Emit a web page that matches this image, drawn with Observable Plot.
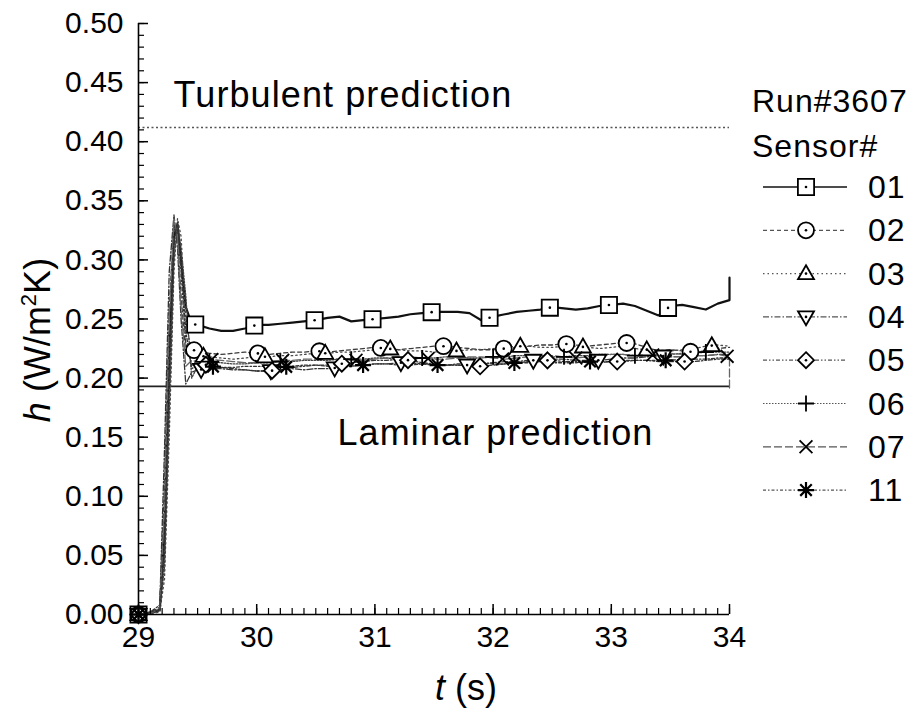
<!DOCTYPE html>
<html>
<head>
<meta charset="utf-8">
<script src="https://cdn.jsdelivr.net/npm/d3@7"></script>
<script src="https://cdn.jsdelivr.net/npm/@observablehq/plot@0.6"></script>
<style>
  body { margin: 0; background: #fff; }
  #chart { width: 916px; height: 709px; }
  svg { font-family: "Liberation Sans", Arial, Helvetica, sans-serif; }
</style>
</head>
<body>
<div id="chart"></div>
<script>
// ---------------- DATA ----------------
const runLabel = "Run#3607";
const sensorHeader = "Sensor#";
const sensors = ["01", "02", "03", "04", "05", "06", "07", "11"];

// time samples (s)
const timeGrid = [29.0, 29.1, 29.18, 29.22, 29.26, 29.3, 29.33, 29.36, 29.4, 29.45,
  29.5, 29.6, 29.7, 29.8, 29.9, 30.0, 30.1, 30.2, 30.3, 30.4,
  30.5, 30.6, 30.7, 30.8, 30.9, 31.0, 31.1, 31.2, 31.3, 31.4,
  31.5, 31.6, 31.7, 31.8, 31.9, 32.0, 32.1, 32.2, 32.3, 32.4,
  32.5, 32.6, 32.7, 32.8, 32.9, 33.0, 33.1, 33.2, 33.3, 33.4,
  33.5, 33.6, 33.7, 33.8, 33.9, 34.0];

// heat-transfer coefficient h (W/m^2K) per sensor, one value per time sample
const h01 = [0, 0.001, 0.004, 0.07, 0.22, 0.32, 0.33, 0.30, 0.26, 0.246,
  0.245, 0.242, 0.240, 0.240, 0.242, 0.245, 0.245, 0.246, 0.247, 0.248,
  0.249, 0.251, 0.252, 0.248, 0.249, 0.250, 0.251, 0.252, 0.254, 0.255,
  0.256, 0.256, 0.256, 0.255, 0.249, 0.252, 0.254, 0.256, 0.257, 0.258,
  0.260, 0.259, 0.258, 0.259, 0.261, 0.262, 0.263, 0.261, 0.257, 0.253,
  0.261, 0.262, 0.260, 0.258, 0.263, 0.266];
const h02 = [0, 0.002, 0.006, 0.11, 0.26, 0.33, 0.32, 0.27, 0.22, 0.224,
  0.223, 0.221, 0.220, 0.221, 0.222, 0.221, 0.220, 0.221, 0.222, 0.222,
  0.223, 0.222, 0.223, 0.224, 0.225, 0.226, 0.225, 0.224, 0.225, 0.226,
  0.227, 0.227, 0.226, 0.225, 0.224, 0.224, 0.225, 0.226, 0.227, 0.228,
  0.228, 0.229, 0.228, 0.227, 0.228, 0.229, 0.230, 0.229, 0.226, 0.223,
  0.224, 0.223, 0.222, 0.223, 0.225, 0.226];
const h03 = [0, 0.001, 0.002, 0.03, 0.15, 0.29, 0.335, 0.32, 0.25, 0.220,
  0.219, 0.218, 0.217, 0.216, 0.217, 0.218, 0.218, 0.219, 0.219, 0.220,
  0.221, 0.221, 0.222, 0.222, 0.223, 0.224, 0.225, 0.224, 0.223, 0.223,
  0.222, 0.223, 0.223, 0.224, 0.224, 0.225, 0.226, 0.227, 0.227, 0.226,
  0.226, 0.227, 0.227, 0.226, 0.225, 0.226, 0.227, 0.225, 0.224, 0.222,
  0.223, 0.224, 0.225, 0.227, 0.228, 0.227];
const h04 = [0, 0.002, 0.008, 0.14, 0.29, 0.338, 0.31, 0.25, 0.195, 0.205,
  0.207, 0.208, 0.208, 0.207, 0.207, 0.206, 0.206, 0.207, 0.208, 0.207,
  0.208, 0.208, 0.209, 0.210, 0.211, 0.212, 0.212, 0.213, 0.213, 0.212,
  0.212, 0.211, 0.211, 0.211, 0.212, 0.213, 0.214, 0.214, 0.215, 0.215,
  0.216, 0.216, 0.215, 0.215, 0.215, 0.216, 0.217, 0.217, 0.218, 0.219,
  0.218, 0.218, 0.219, 0.219, 0.220, 0.220];
const h05 = [0, 0.001, 0.003, 0.06, 0.21, 0.325, 0.328, 0.29, 0.23, 0.211,
  0.212, 0.211, 0.209, 0.208, 0.207, 0.206, 0.206, 0.207, 0.209, 0.210,
  0.211, 0.211, 0.212, 0.213, 0.214, 0.215, 0.215, 0.216, 0.215, 0.213,
  0.212, 0.211, 0.211, 0.210, 0.210, 0.211, 0.212, 0.213, 0.214, 0.215,
  0.215, 0.214, 0.214, 0.213, 0.213, 0.214, 0.214, 0.215, 0.215, 0.214,
  0.214, 0.214, 0.214, 0.215, 0.216, 0.216];
const h06 = [0, 0.002, 0.004, 0.04, 0.17, 0.30, 0.33, 0.31, 0.27, 0.200,
  0.210, 0.214, 0.213, 0.212, 0.212, 0.213, 0.213, 0.214, 0.214, 0.215,
  0.215, 0.215, 0.216, 0.216, 0.216, 0.217, 0.217, 0.216, 0.216, 0.217,
  0.217, 0.218, 0.218, 0.217, 0.217, 0.218, 0.218, 0.219, 0.219, 0.219,
  0.218, 0.218, 0.219, 0.219, 0.220, 0.220, 0.220, 0.219, 0.219, 0.220,
  0.220, 0.221, 0.221, 0.222, 0.222, 0.222];
const h07 = [0, 0.001, 0.005, 0.09, 0.25, 0.335, 0.32, 0.26, 0.21, 0.215,
  0.214, 0.216, 0.215, 0.214, 0.213, 0.213, 0.214, 0.215, 0.215, 0.216,
  0.216, 0.217, 0.216, 0.215, 0.215, 0.216, 0.217, 0.218, 0.218, 0.217,
  0.216, 0.216, 0.217, 0.218, 0.218, 0.217, 0.216, 0.217, 0.218, 0.219,
  0.219, 0.218, 0.217, 0.218, 0.219, 0.220, 0.220, 0.219, 0.219, 0.220,
  0.221, 0.220, 0.219, 0.219, 0.220, 0.218];
const h11 = [0, 0.002, 0.004, 0.05, 0.19, 0.315, 0.332, 0.30, 0.24, 0.208,
  0.211, 0.210, 0.209, 0.209, 0.210, 0.210, 0.210, 0.209, 0.210, 0.211,
  0.211, 0.210, 0.210, 0.211, 0.211, 0.212, 0.212, 0.211, 0.211, 0.212,
  0.211, 0.211, 0.212, 0.212, 0.213, 0.212, 0.212, 0.213, 0.213, 0.214,
  0.213, 0.213, 0.213, 0.214, 0.214, 0.214, 0.215, 0.215, 0.215, 0.215,
  0.215, 0.216, 0.216, 0.216, 0.217, 0.217];

// final readings recorded at t = 34 s (vertical trace at the right end)
const endReading01 = 0.285;
const endReading07 = 0.190;

// times at which each sensor's symbol is drawn (s)
const markers01 = [29.0, 29.48, 29.98, 30.49, 30.98, 31.48, 31.97, 32.48, 32.98, 33.48];
const markers02 = [29.0, 29.47, 30.01, 30.53, 31.05, 31.58, 32.09, 32.62, 33.13, 33.67];
const markers03 = [29.0, 29.55, 30.07, 30.58, 31.13, 31.69, 32.23, 32.76, 33.30, 33.85];
const markers04 = [29.0, 29.53, 30.12, 30.66, 31.22, 31.78, 32.34, 32.89, 33.44];
const markers05 = [29.0, 29.57, 30.13, 30.72, 31.28, 31.89, 32.46, 33.05, 33.62];
const markers06 = [29.0, 29.60, 30.20, 30.80, 31.40, 32.00, 32.60, 33.20, 33.80];
const markers07 = [29.0, 29.62, 30.22, 30.84, 31.45, 32.08, 32.70, 33.35, 33.98];
const markers11 = [29.0, 29.63, 30.25, 30.90, 31.53, 32.18, 32.82, 33.46];

const turbulentPrediction = 0.412;
const laminarPrediction = 0.193;
const turbulentLabel = "Turbulent prediction";
const laminarLabel = "Laminar prediction";

const xTickValues = [29, 30, 31, 32, 33, 34];
const yTickValues = [0, 0.05, 0.10, 0.15, 0.20, 0.25, 0.30, 0.35, 0.40, 0.45, 0.50];
const xMinorStep = 0.1;
const yMinorStep = 0.01;

// ---------------- STYLES ----------------
function makeSymbol(kind) {
  return {
    draw(ctx, size) {
      const r = Math.sqrt(size / Math.PI);
      switch (kind) {
        case "square": { const s = r * 0.9; ctx.rect(-s, -s, 2 * s, 2 * s); break; }
        case "circle": ctx.moveTo(r, 0); ctx.arc(0, 0, r, 0, 2 * Math.PI); break;
        case "triUp": ctx.moveTo(0, -r * 1.05); ctx.lineTo(r, r * 0.7); ctx.lineTo(-r, r * 0.7); ctx.closePath(); break;
        case "triDown": ctx.moveTo(0, r * 1.05); ctx.lineTo(r, -r * 0.7); ctx.lineTo(-r, -r * 0.7); ctx.closePath(); break;
        case "diamond": ctx.moveTo(0, -r); ctx.lineTo(r, 0); ctx.lineTo(0, r); ctx.lineTo(-r, 0); ctx.closePath(); break;
        case "plus": ctx.moveTo(-r, 0); ctx.lineTo(r, 0); ctx.moveTo(0, -r); ctx.lineTo(0, r); break;
        case "times": { const s = r * 0.8; ctx.moveTo(-s, -s); ctx.lineTo(s, s); ctx.moveTo(-s, s); ctx.lineTo(s, -s); break; }
        case "asterisk": {
          const s = r * 0.72;
          ctx.moveTo(-r, 0); ctx.lineTo(r, 0); ctx.moveTo(0, -r); ctx.lineTo(0, r);
          ctx.moveTo(-s, -s); ctx.lineTo(s, s); ctx.moveTo(-s, s); ctx.lineTo(s, -s); break;
        }
      }
    }
  };
}

const seriesValues = [h01, h02, h03, h04, h05, h06, h07, h11];
const seriesMarkers = [markers01, markers02, markers03, markers04, markers05, markers06, markers07, markers11];
const seriesStyle = [
  { kind: "square",   stroke: "#111", width: 2.2, dash: null,                centerDot: true },
  { kind: "circle",   stroke: "#3a3a3a", width: 1.3, dash: "4,3",            centerDot: true },
  { kind: "triUp",    stroke: "#4a4a4a", width: 1.3, dash: "1.5,3",          centerDot: true },
  { kind: "triDown",  stroke: "#333", width: 1.3, dash: "6,2,1.5,2",         centerDot: true },
  { kind: "diamond",  stroke: "#333", width: 1.3, dash: "4,2,1.5,2,1.5,2",   centerDot: true },
  { kind: "plus",     stroke: "#444", width: 1.3, dash: "1.5,1.5",           centerDot: false },
  { kind: "times",    stroke: "#666", width: 1.3, dash: "8,3",               centerDot: false },
  { kind: "asterisk", stroke: "#333", width: 1.3, dash: "3,2,1.5,2",         centerDot: false }
];
const endReadings = { "01": endReading01, "07": endReading07 };

// position of a symbol on the recorded trace
function valueAt(values, t) {
  const i = timeGrid.findIndex(g => g >= t - 1e-9);
  if (Math.abs(timeGrid[i] - t) < 1e-9) return values[i];
  const t0 = timeGrid[i - 1], t1 = timeGrid[i];
  return values[i - 1] + (values[i] - values[i - 1]) * (t - t0) / (t1 - t0);
}

// ---------------- LAYOUT ----------------
const W = 916, H = 709;
const mL = 138, mR = 187, mT = 23, mB = 95;
const plotW = W - mL - mR, plotH = H - mT - mB;
const FONT = "\"Liberation Sans\", Arial, Helvetica, sans-serif";

const lineMarks = [];
const dotMarks = [];
sensors.forEach((id, k) => {
  const vals = seriesValues[k];
  const st = seriesStyle[k];
  const rows = timeGrid.map((t, i) => ({ t, h: vals[i] }));
  if (endReadings[id] !== undefined) rows.push({ t: timeGrid[timeGrid.length - 1], h: endReadings[id] });
  lineMarks.push(Plot.line(rows, {
    x: "t", y: "h", stroke: st.stroke, strokeWidth: st.width,
    strokeDasharray: st.dash || undefined, curve: "linear"
  }));
  const mrows = seriesMarkers[k].map(t => ({ t, h: valueAt(vals, t) }));
  dotMarks.push(Plot.dot(mrows, {
    x: "t", y: "h", symbol: makeSymbol(st.kind), r: st.kind === "square" ? 9 : 8,
    fill: st.centerDot ? "white" : "none", stroke: "#000", strokeWidth: st.kind === "asterisk" ? 2.2 : 1.8
  }));
  if (st.centerDot) {
    dotMarks.push(Plot.dot(mrows, { x: "t", y: "h", r: 1.3, fill: "#000", stroke: "none" }));
  }
});

const xMinor = d3.range(xTickValues[0], xTickValues[xTickValues.length - 1] + 1e-6, xMinorStep);
const yMinor = d3.range(yTickValues[0], yTickValues[yTickValues.length - 1] + 1e-6, yMinorStep);

const chart = Plot.plot({
  width: W, height: H,
  marginLeft: mL, marginRight: mR, marginTop: mT, marginBottom: mB,
  x: { domain: [29, 34] },
  y: { domain: [0, 0.5] },
  style: { fontFamily: FONT, fontSize: "30px", color: "#000", background: "#fff", overflow: "visible" },
  marks: [
    Plot.ruleY([laminarPrediction], { stroke: "#222", strokeWidth: 1.6 }),
    Plot.ruleY([turbulentPrediction], { stroke: "#555", strokeWidth: 1.4, strokeDasharray: "2,2.5" }),
    Plot.text([{ label: turbulentLabel, h: turbulentPrediction }], {
      y: "h", text: "label", frameAnchor: "left", textAnchor: "start", dx: 35, dy: -32,
      fontSize: 36, fill: "#000"
    }),
    Plot.text([{ label: laminarLabel, h: laminarPrediction }], {
      y: "h", text: "label", frameAnchor: "left", textAnchor: "start", dx: 199, dy: 47,
      fontSize: 36, fill: "#000"
    }),
    ...lineMarks,
    ...dotMarks,
    Plot.ruleX([29], { stroke: "#000", strokeWidth: 1.6 }),
    Plot.ruleY([0], { stroke: "#000", strokeWidth: 1.6 }),
    Plot.tickY(yTickValues, { y: d => d, insetRight: plotW - 10, stroke: "#000", strokeWidth: 1.5 }),
    Plot.tickY(yMinor, { y: d => d, insetRight: plotW - 6, stroke: "#000", strokeWidth: 1.2 }),
    Plot.tickX(xTickValues, { x: d => d, insetTop: plotH - 10, stroke: "#000", strokeWidth: 1.5 }),
    Plot.tickX(xMinor, { x: d => d, insetTop: plotH - 6, stroke: "#000", strokeWidth: 1.2 }),
    Plot.axisY({ ticks: yTickValues, tickSize: 0, tickPadding: 15, tickFormat: d3.format(".2f"), label: null, fontSize: 30 }),
    Plot.axisX({ ticks: xTickValues, tickSize: 0, tickPadding: 11, tickFormat: d => String(d), label: null, fontSize: 30 })
  ]
});
document.getElementById("chart").appendChild(chart);

// ---------------- TITLES & LEGEND ----------------
const svg = d3.select(chart);

// widen the annotation lettering a little (the original face is wider than Arial)
svg.selectAll("text")
  .filter(function () { return this.textContent === turbulentLabel || this.textContent === laminarLabel; })
  .attr("letter-spacing", 1.1);

// y title
const yt = svg.append("text")
  .attr("transform", "translate(50,340) rotate(-90)")
  .attr("text-anchor", "middle")
  .attr("font-size", 36).attr("fill", "#000");
yt.append("tspan").attr("font-style", "italic").text("h");
yt.append("tspan").text(" (W/m");
yt.append("tspan").attr("font-size", 22).attr("dy", -14).text("2");
yt.append("tspan").attr("dy", 14).text("K)");

// x title
const xt = svg.append("text")
  .attr("x", 466).attr("y", 700)
  .attr("text-anchor", "middle")
  .attr("font-size", 36).attr("fill", "#000");
xt.append("tspan").attr("font-style", "italic").text("t");
xt.append("tspan").text(" (s)");

// legend
const lg = svg.append("g").attr("font-size", 32).attr("fill", "#000").attr("text-anchor", "start");
lg.append("text").attr("x", 752).attr("y", 112).attr("letter-spacing", 1).text(runLabel);
lg.append("text").attr("x", 752).attr("y", 157).attr("letter-spacing", 1).text(sensorHeader);
sensors.forEach((id, k) => {
  const st = seriesStyle[k];
  const cy = 187 + k * 43.3;
  lg.append("line").attr("x1", 763).attr("x2", 847).attr("y1", cy).attr("y2", cy)
    .attr("stroke", k === 0 ? "#111" : "#555").attr("stroke-width", k === 0 ? 1.5 : 1.2)
    .attr("stroke-dasharray", st.dash);
  const r = st.kind === "square" ? 9 : 8;
  lg.append("path")
    .attr("transform", `translate(806,${cy})`)
    .attr("d", d3.symbol(makeSymbol(st.kind), Math.PI * r * r)())
    .attr("fill", st.centerDot ? "white" : "none")
    .attr("stroke", "#000").attr("stroke-width", st.kind === "asterisk" ? 2.2 : 1.8);
  if (st.centerDot) lg.append("circle").attr("cx", 806).attr("cy", cy).attr("r", 1.3).attr("fill", "#000");
  lg.append("text").attr("x", 868).attr("y", cy + 11).attr("letter-spacing", 1).text(id);
});
</script>
</body>
</html>
